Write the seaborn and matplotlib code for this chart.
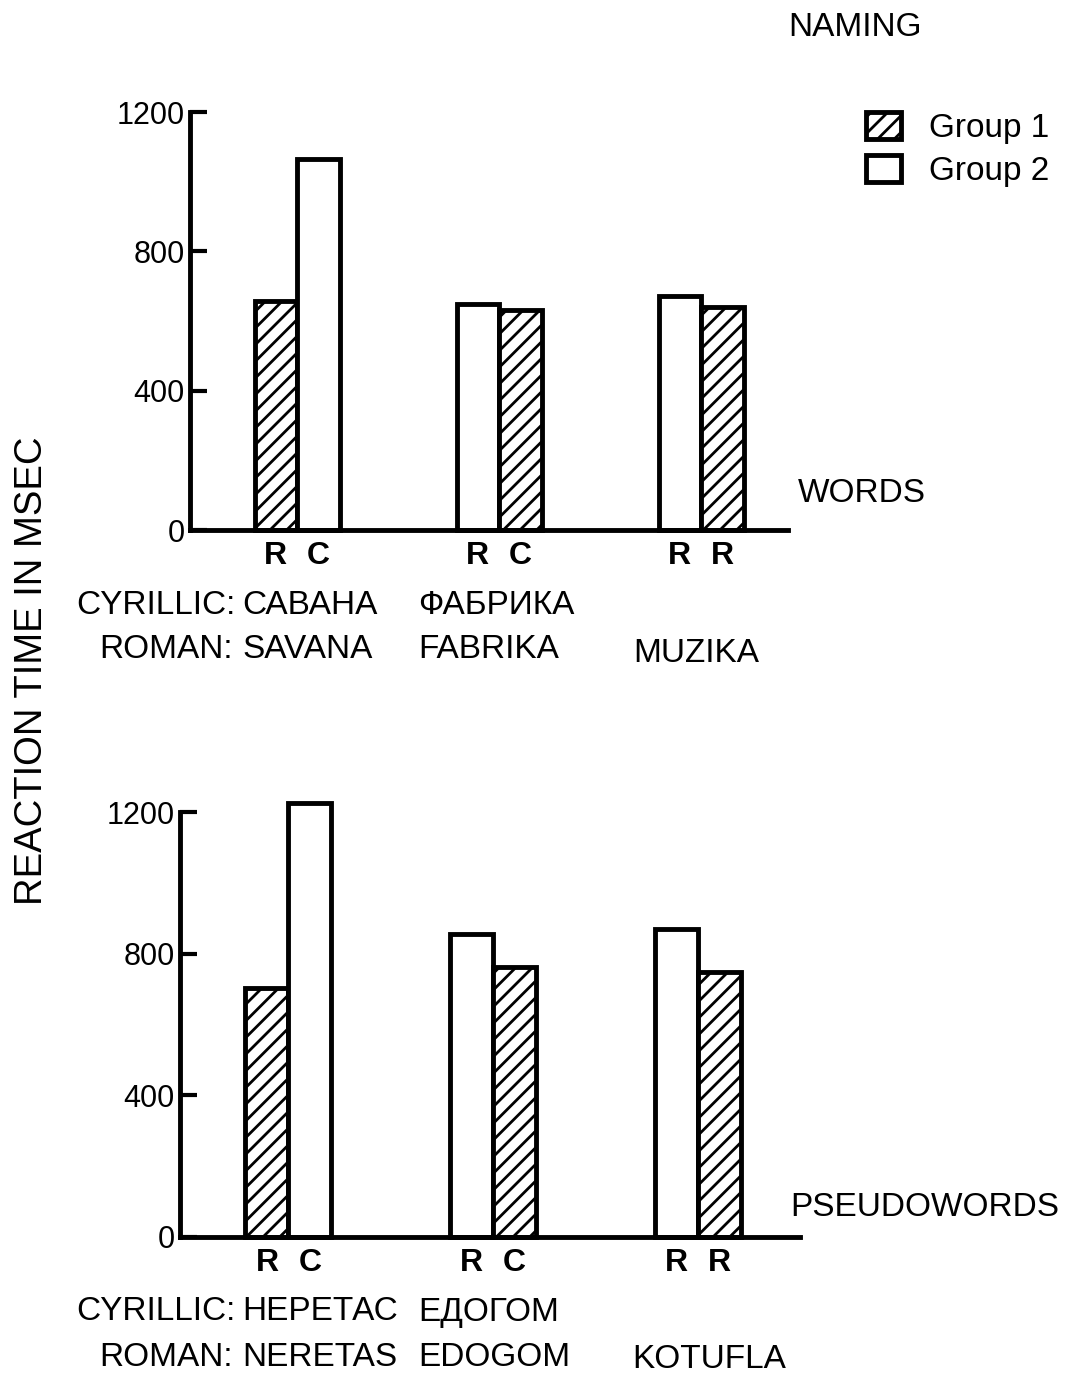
import matplotlib
matplotlib.use("Agg")
import matplotlib.pyplot as plt
from matplotlib.patches import Patch
import pandas as pd
import seaborn as sns

# ---- data: naming reaction times (msec) ----
word_items = ["SAVANA", "FABRIKA", "MUZIKA"]
word_cyrillic = ["САВАНА", "ФАБРИКА", ""]
word_left_rt = [657, 649, 671]
word_right_rt = [1066, 631, 640]
word_left_group = ["Group 1", "Group 2", "Group 2"]
word_right_group = ["Group 2", "Group 1", "Group 1"]
word_left_script = ["R", "R", "R"]
word_right_script = ["C", "C", "R"]

pseudo_items = ["NERETAS", "EDOGOM", "KOTUFLA"]
pseudo_cyrillic = ["НЕРЕТАС", "ЕДОГОМ", ""]
pseudo_left_rt = [703, 856, 870]
pseudo_right_rt = [1225, 763, 749]
pseudo_left_group = ["Group 1", "Group 2", "Group 2"]
pseudo_right_group = ["Group 2", "Group 1", "Group 1"]
pseudo_left_script = ["R", "R", "R"]
pseudo_right_script = ["C", "C", "R"]

y_ticks = [0, 400, 800, 1200]

sns.set_theme(style="white")
plt.rcParams["font.family"] = ["Liberation Sans", "DejaVu Sans"]
plt.rcParams["hatch.linewidth"] = 2.0
plt.rcParams["hatch.color"] = "black"
for key in ["text.color", "axes.labelcolor", "xtick.color", "ytick.color"]:
    plt.rcParams[key] = "black"

FS = 24
HATCH = {"Group 1": "//", "Group 2": None}

fig = plt.figure(figsize=(10.69, 13.79), dpi=100)


def panel(rect, items, left_rt, right_rt, lgroup, rgroup, lscript, rscript, xlim):
    ax = fig.add_axes(rect)
    df = pd.DataFrame({
        "item": items * 2,
        "slot": ["left"] * 3 + ["right"] * 3,
        "rt": left_rt + right_rt,
    })
    sns.barplot(data=df, x="item", y="rt", hue="slot", order=items,
                hue_order=["left", "right"], width=0.42, dodge=True,
                ax=ax, legend=False, errorbar=None)
    groups = lgroup + rgroup
    scripts = lscript + rscript
    bars = [p for p in ax.patches if p.get_height() > 0][:6]
    centers = []
    for bar, g in zip(bars, groups):
        bar.set_facecolor("white")
        bar.set_edgecolor("black")
        bar.set_linewidth(3.5)
        bar.set_clip_on(False)
        if HATCH[g]:
            bar.set_hatch(HATCH[g])
        centers.append(bar.get_x() + bar.get_width() / 2)
    ax.set_xlim(*xlim)
    ax.set_ylim(0, 1200)
    ax.set_xticks(centers)
    ax.set_xticklabels(scripts, fontsize=23, fontweight="bold",
                       family=["Liberation Sans Narrow", "Liberation Sans"])
    ax.tick_params(axis="x", length=0, pad=8)
    ax.set_yticks(y_ticks)
    ax.set_yticklabels([str(v) for v in y_ticks], fontsize=22)
    ax.tick_params(axis="y", direction="in", length=12, width=3, pad=4,
                   left=True)
    for s in ["top", "right"]:
        ax.spines[s].set_visible(False)
    for s in ["left", "bottom"]:
        ax.spines[s].set_linewidth(3.5)
        ax.spines[s].set_color("black")
    ax.set_xlabel("")
    ax.set_ylabel("")
    ax.patch.set_alpha(0)
    return ax


ax1 = panel([190 / 1069, 1 - 530 / 1379, 598 / 1069, 418 / 1379],
            word_items, word_left_rt, word_right_rt,
            word_left_group, word_right_group,
            word_left_script, word_right_script, (-0.53, 2.43))
ax2 = panel([180 / 1069, 1 - 1237 / 1379, 620 / 1069, 425 / 1379],
            pseudo_items, pseudo_left_rt, pseudo_right_rt,
            pseudo_left_group, pseudo_right_group,
            pseudo_left_script, pseudo_right_script, (-0.53, 2.5))


def fx(px):
    return px / 1069


def fy(py):
    return 1 - py / 1379


# titles and panel names
fig.text(fx(855), fy(28), "NAMING", fontsize=FS, ha="center", va="center")
fig.text(fx(862), fy(493), "WORDS", fontsize=FS, ha="center", va="center")
fig.text(fx(925), fy(1207), "PSEUDOWORDS", fontsize=FS, ha="center", va="center")
fig.text(fx(32), fy(671), "REACTION TIME IN MSEC", fontsize=27.5,
         rotation=90, ha="center", va="center")


# item labels beneath each panel
def item_labels(y_cyr, y_rom, xs, cyr, rom):
    fig.text(fx(236), fy(y_cyr), "CYRILLIC:", fontsize=FS, ha="right", va="center")
    fig.text(fx(233), fy(y_rom), "ROMAN:", fontsize=FS, ha="right", va="center")
    for i, (c, r) in enumerate(zip(cyr, rom)):
        if c:
            fig.text(fx(xs[i]), fy(y_cyr), c, fontsize=FS, ha="left", va="center")
        fig.text(fx(xs[i]), fy(y_rom + (3 if not c else 0)), r,
                 fontsize=FS, ha="left", va="center")


item_labels(605, 650, [242, 418, 633], word_cyrillic, word_items)
item_labels(1312, 1357, [242, 418, 632], pseudo_cyrillic, pseudo_items)

# legend
handles = [Patch(facecolor="white", edgecolor="black", hatch="//", linewidth=3.5),
           Patch(facecolor="white", edgecolor="black", linewidth=3.5)]
fig.legend(handles, ["Group 1", "Group 2"], loc="upper left",
           bbox_to_anchor=(fx(866), fy(112)), frameon=False, fontsize=FS,
           handlelength=1.05, handleheight=0.85, handletextpad=0.85,
           labelspacing=0.35, borderpad=0, borderaxespad=0)

fig.savefig("out.png", dpi=100, facecolor="white")
